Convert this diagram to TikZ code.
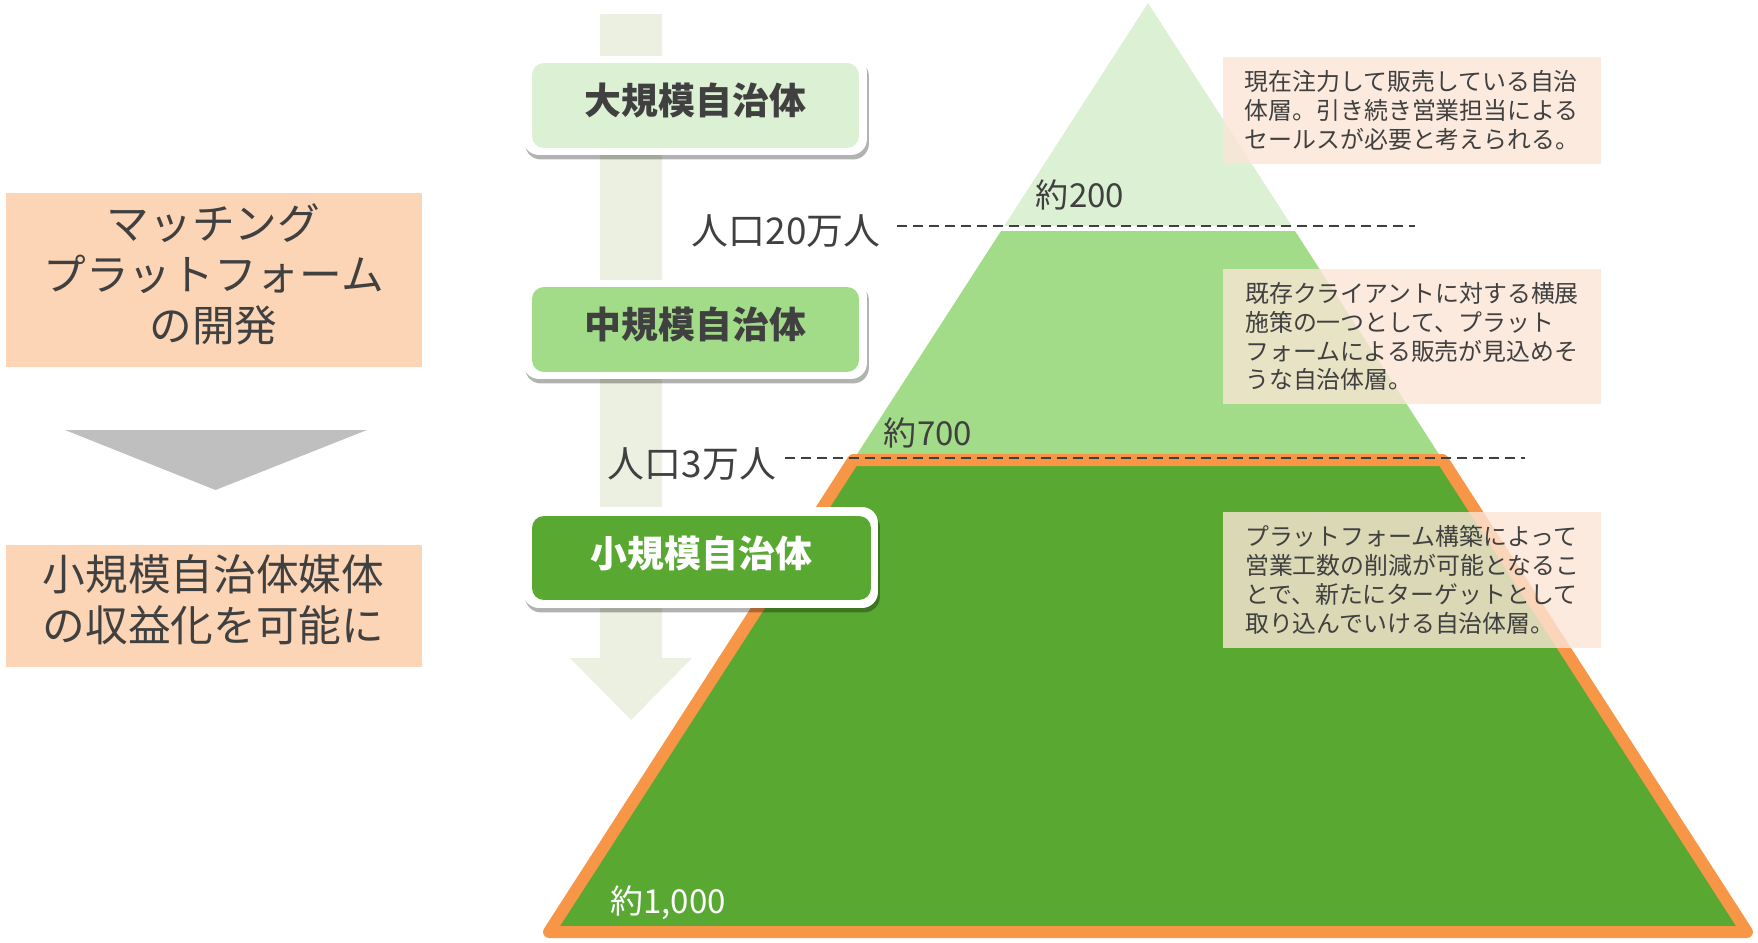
\documentclass[tikz,border=0pt]{standalone}
\usepackage{fontspec}
\setmainfont{Noto Sans CJK JP}
\usetikzlibrary{shadows}
\definecolor{txt}{HTML}{404040}
\definecolor{lgreen}{HTML}{DCF0D4}
\definecolor{mgreen}{HTML}{A3DC89}
\definecolor{dgreen}{HTML}{58A832}
\definecolor{orng}{HTML}{F79646}
\definecolor{arrowbg}{HTML}{EBF0E0}
\definecolor{peach}{HTML}{FBD5B5}
\definecolor{notebg}{HTML}{FBE5D6}
\definecolor{tri}{HTML}{BFBFBF}
\begin{document}
\begin{tikzpicture}[x=0.02cm, y=-0.02cm,
  tierouter/.style={fill=white, rounded corners=0.32cm, inner sep=0pt,
    drop shadow={shadow xshift=0.04cm, shadow yshift=-0.09cm, opacity=0.3, fill=black}},
  tierinner/.style={rounded corners=0.24cm, inner sep=0pt},
  tiertext/.style={inner sep=0pt, font=\fontsize{21pt}{25pt}\selectfont\bfseries},
  note/.style={fill=notebg, fill opacity=0.8, text opacity=1, text=txt, inner sep=0pt,
    align=left, minimum width=7.56cm, font=\fontsize{13.6pt}{16.45pt}\selectfont},
  lbox/.style={fill=peach, inner sep=0pt, minimum width=8.32cm},
  ltext/.style={text=txt, inner sep=0pt, align=center,
    font=\fontsize{24.3pt}{29pt}\selectfont},
  poplabel/.style={text=txt, font=\fontsize{21pt}{24pt}\selectfont, inner sep=0pt},
  countlabel/.style={text=txt, font=\fontsize{18.8pt}{22pt}\selectfont, inner sep=0pt},
  guide/.style={draw=txt, line width=0.04cm, dash pattern=on 0.2cm off 0.12cm}
]
\useasboundingbox (0,0) rectangle (1758,943);

% background downward arrow
\fill[arrowbg] (600,14) -- (662,14) -- (662,658) -- (692,658) -- (631,720)
  -- (570,658) -- (600,658) -- cycle;

% pyramid
\fill[lgreen] (1148,3) -- (1291.8,226) -- (1004.2,226) -- cycle;
\fill[mgreen] (1001,231) -- (1295,231) -- (1442.7,460) -- (853.3,460) -- cycle;
\draw[orng, line width=0.24cm, line join=round, fill=dgreen]
  (853.3,460) -- (1442.7,460) -- (1747,932) -- (549,932) -- cycle;

% population labels and guides
\node[poplabel] (p20) at (786,231) {人口20万人};
\node[poplabel] (p3) at (692,464) {人口3万人};
\coordinate (g1a) at (897,226);
\coordinate (g1b) at (1415,226);
\coordinate (g2a) at (785,458);
\coordinate (g2b) at (1525,458);
\draw[guide] (g1a) -- (g1b);
\draw[guide] (g2a) -- (g2b);

% counts
\node[countlabel] (c200) at (1080,195) {約200};
\node[countlabel] (c700) at (928,433) {約700};
\node[countlabel, text=white] (c1000) at (668,903) {約1,000};

% tier boxes
\node[tierouter, minimum width=6.88cm, minimum height=1.98cm] (largebg) at (695,105.5) {};
\node[tierinner, fill=lgreen, minimum width=6.54cm, minimum height=1.7cm] (largefill) at (695.5,105.5) {};
\node[tiertext, text=txt] (large) at (695.5,100.5) {大規模自治体};

\node[tierouter, minimum width=6.88cm, minimum height=1.98cm] (midbg) at (695,329.5) {};
\node[tierinner, fill=mgreen, minimum width=6.54cm, minimum height=1.7cm] (midfill) at (695.5,329.5) {};
\node[tiertext, text=txt] (mid) at (695.5,324.5) {中規模自治体};

\node[tierouter, minimum width=7.1cm, minimum height=2.02cm] (smallbg) at (700.5,557.5) {};
\node[tierinner, fill=dgreen, minimum width=6.78cm, minimum height=1.68cm] (smallfill) at (701.5,558) {};
\node[tiertext, text=white] (small) at (701.5,553) {小規模自治体};

% notes
\node[note, minimum height=2.14cm] (n1) at (1412,110.5)
  {現在注力して販売している自治\\体層。引き続き営業担当による\\セールスが必要と考えられる。};
\node[note, minimum height=2.7cm] (n2) at (1412,336.5)
  {既存クライアントに対する横展\\施策の一つとして、プラット\\フォームによる販売が見込めそ\\うな自治体層。};
\node[note, minimum height=2.72cm] (n3) at (1412,580)
  {プラットフォーム構築によって\\営業工数の削減が可能となるこ\\とで、新たにターゲットとして\\取り込んでいける自治体層。};

% left side
\node[lbox, minimum height=3.48cm] (dev) at (213.6,280) {};
\node[ltext] (devtext) at (213.6,274) {マッチング\\プラットフォーム\\の開発};
\fill[tri] (65,430) -- (367,430) -- (215.5,490) -- cycle;
\node[lbox, minimum height=2.44cm] (rev) at (213.6,606) {};
\node[ltext] (revtext) at (213.6,600) {小規模自治体媒体\\の収益化を可能に};
\end{tikzpicture}
\end{document}
